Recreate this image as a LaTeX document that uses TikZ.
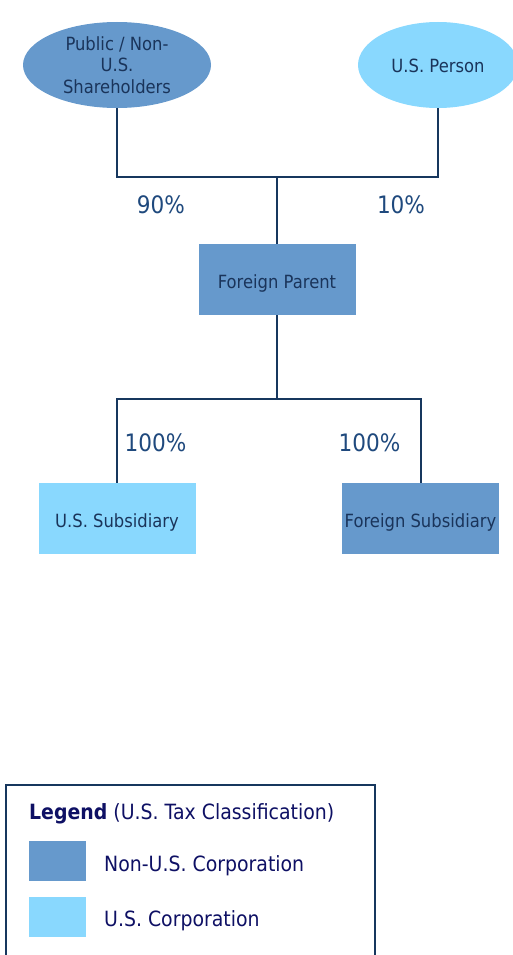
\documentclass[tikz,border=0pt]{standalone}
\usepackage{fontspec}
\setmainfont{DejaVu Sans}[FakeStretch=0.9]
\usetikzlibrary{shapes.geometric}
\definecolor{nonus}{RGB}{102,153,204}
\definecolor{usblue}{RGB}{137,216,254}
\definecolor{linkc}{RGB}{23,55,94}
\definecolor{nodetxt}{RGB}{26,52,90}
\definecolor{pcttxt}{RGB}{31,73,125}
\definecolor{legtxt}{RGB}{14,16,100}
\tikzset{
  entity/.style={text=nodetxt, font=\fontsize{18.2}{21.5}\selectfont, align=center, inner sep=0pt},
  owner/.style={entity, ellipse, minimum width=188pt, minimum height=86pt},
  corp/.style={entity, rectangle, minimum width=157pt, minimum height=71pt,
               text height=18.4pt, text depth=0pt},
  link/.style={draw=linkc, line width=2pt},
  pct/.style={text=pcttxt, font=\fontsize{24}{28}\selectfont, inner sep=0pt},
  legtext/.style={text=legtxt, font=\fontsize{21}{25}\selectfont, inner sep=0pt, anchor=west},
  swatch/.style={inner sep=0pt, minimum width=57pt, minimum height=40pt, anchor=north west}
}
\begin{document}
\begin{tikzpicture}[x=1pt,y=-1pt]
\useasboundingbox (0,0) rectangle (513,955);

% shareholders
\node[owner, fill=nonus] (pub) at (117,65) {Public / Non-\\U.S.\\Shareholders};
\node[owner, fill=usblue, minimum width=160pt, text height=15.4pt, text depth=0pt] (usp) at (438,65) {U.S. Person};

% corporations
\node[corp, fill=nonus] (fp) at (277,279.5) {Foreign Parent};
\node[corp, fill=usblue] (uss) at (117,518.5) {U.S. Subsidiary};
\node[corp, fill=nonus] (fs) at (420.5,518.5) {Foreign Subsidiary};

% ownership links
\coordinate (j1) at (277,177);
\coordinate (j2) at (277,399);
\draw[link] (pub.south) |- (j1) -| (usp.south);
\draw[link] (j1) -- (fp.north);
\draw[link] (fp.south) -- (j2);
\draw[link] (j2) -| (uss.north);
\draw[link] (j2) -| (fs.north);

% percentages
\node[pct] (p90) at (161,205) {90\%};
\node[pct] (p10) at (401,205) {10\%};
\node[pct] (p100a) at (155.5,443) {100\%};
\node[pct] (p100b) at (369.5,443) {100\%};

% legend
\draw[draw=linkc, line width=2pt] (6,785) rectangle (375,965);
\node[legtext] (legtitle) at (29,814) {\textbf{Legend} (U.S. Tax Classification)};
\node[swatch, fill=nonus] (sw1) at (29,841) {};
\node[swatch, fill=usblue] (sw2) at (29,897) {};
\node[legtext] (lg1) at (104,866) {Non-U.S. Corporation};
\node[legtext] (lg2) at (104,921) {U.S. Corporation};
\end{tikzpicture}
\end{document}
